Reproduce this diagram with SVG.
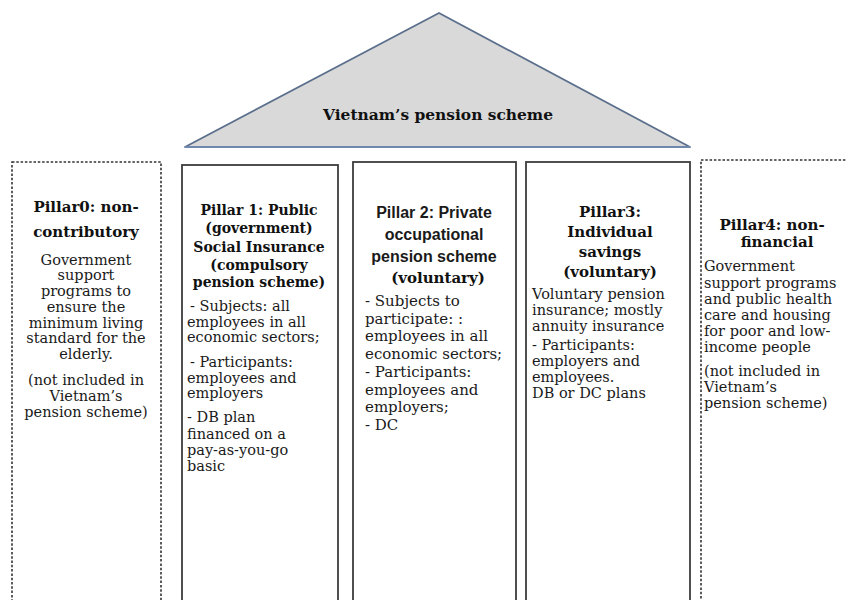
<svg xmlns="http://www.w3.org/2000/svg" width="846" height="600" viewBox="0 0 846 600">
<style>
.box{fill:#fff;stroke:#3c3c3c;stroke-width:1.8}
.dash{fill:#fff;stroke:#333;stroke-width:1.6;stroke-dasharray:2.5 1.8}
.t{font-family:"DejaVu Serif","Liberation Serif",serif;font-weight:bold;font-size:15px;fill:#111}
.t14{font-size:14px}
.ts{font-family:"Liberation Sans",Arial,sans-serif;font-weight:bold;font-size:16px;fill:#1a1a1a}
.b{font-family:"DejaVu Serif","Liberation Serif",serif;font-size:14.5px;fill:#1a1a1a}
.b15{font-size:15px}
.c{text-anchor:middle}
</style>
<rect width="846" height="600" fill="#fff"/>
<g id="roof">
<polygon points="439,13 185,147 690,147" fill="#d9d9d9" stroke="#5b6f8c" stroke-width="1.8" stroke-linejoin="round"/>
<line x1="185" y1="147" x2="690" y2="147" stroke="#6f88ad" stroke-width="2.2"/>
<text class="t c" x="438" y="120" textLength="230" lengthAdjust="spacingAndGlyphs">Vietnam’s pension scheme</text>
</g>
<g id="pillar0">
<rect class="dash" x="12" y="162" width="149" height="460"/>
<text class="t c" x="86" y="212">Pillar0: non-</text>
<text class="t c" x="86" y="237">contributory</text>
<text class="b c" x="86" y="265">Government</text>
<text class="b c" x="86" y="280">support</text>
<text class="b c" x="86" y="296">programs to</text>
<text class="b c" x="86" y="312">ensure the</text>
<text class="b c" x="86" y="328">minimum living</text>
<text class="b c" x="86" y="343">standard for the</text>
<text class="b c" x="86" y="359">elderly.</text>
<text class="b c" x="86" y="385">(not included in</text>
<text class="b c" x="86" y="401">Vietnam’s</text>
<text class="b c" x="86" y="417">pension scheme)</text>
</g>
<g id="pillar1">
<rect class="box" x="182" y="165" width="156" height="460"/>
<text class="t t14 c" x="259" y="215">Pillar 1: Public</text>
<text class="t t14 c" x="259" y="233">(government)</text>
<text class="t t14 c" x="259" y="252">Social Insurance</text>
<text class="t t14 c" x="259" y="270">(compulsory</text>
<text class="t t14 c" x="259" y="287">pension scheme)</text>
<text class="b" x="190" y="311">- Subjects: all</text>
<text class="b" x="187" y="327">employees in all</text>
<text class="b" x="187" y="342">economic sectors;</text>
<text class="b" x="190" y="367">- Participants:</text>
<text class="b" x="187" y="383">employees and</text>
<text class="b" x="187" y="398">employers</text>
<text class="b" x="187" y="422">- DB plan</text>
<text class="b" x="187" y="439">financed on a</text>
<text class="b" x="187" y="455">pay-as-you-go</text>
<text class="b" x="187" y="471">basic</text>
</g>
<g id="pillar2">
<rect class="box" x="353" y="162" width="163" height="460"/>
<text class="ts c" x="434" y="218">Pillar 2: Private</text>
<text class="ts c" x="434" y="240">occupational</text>
<text class="ts c" x="434" y="262">pension scheme</text>
<text class="t c" x="438" y="283">(voluntary)</text>
<text class="b b15" x="365" y="306">-  Subjects to</text>
<text class="b b15" x="365" y="324">participate: :</text>
<text class="b b15" x="365" y="341">employees in all</text>
<text class="b b15" x="365" y="359">economic sectors;</text>
<text class="b b15" x="365" y="377">- Participants:</text>
<text class="b b15" x="365" y="395">employees and</text>
<text class="b b15" x="365" y="412">employers;</text>
<text class="b b15" x="365" y="430">- DC</text>
</g>
<g id="pillar3">
<rect class="box" x="526" y="162" width="164" height="460"/>
<text class="t c" x="610" y="217">Pillar3:</text>
<text class="t c" x="610" y="237">Individual</text>
<text class="t c" x="610" y="257">savings</text>
<text class="t c" x="610" y="277">(voluntary)</text>
<text class="b" x="532" y="299">Voluntary pension</text>
<text class="b" x="532" y="315">insurance; mostly</text>
<text class="b" x="532" y="331">annuity insurance</text>
<text class="b" x="532" y="350">- Participants:</text>
<text class="b" x="532" y="366">employers and</text>
<text class="b" x="532" y="382">employees.</text>
<text class="b" x="532" y="398">DB or DC plans</text>
</g>
<g id="pillar4">
<rect class="dash" x="701" y="160" width="200" height="460"/>
<text class="t c" x="772" y="230">Pillar4: non-</text>
<text class="t c" x="777" y="247">financial</text>
<text class="b" x="704" y="271">Government</text>
<text class="b" x="704" y="288">support programs</text>
<text class="b" x="704" y="304">and public health</text>
<text class="b" x="704" y="320">care and housing</text>
<text class="b" x="704" y="336">for poor and low-</text>
<text class="b" x="704" y="352">income people</text>
<text class="b" x="704" y="376">(not included in</text>
<text class="b" x="704" y="392">Vietnam’s</text>
<text class="b" x="704" y="408">pension scheme)</text>
</g>
</svg>
